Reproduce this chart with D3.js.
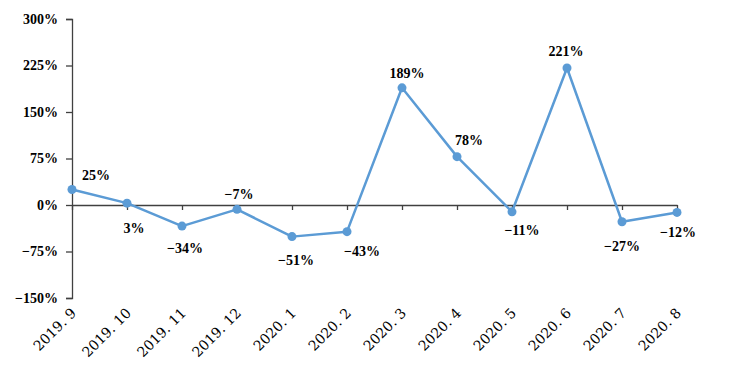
<!DOCTYPE html>
<html>
<head>
<meta charset="utf-8">
<script src="https://cdn.jsdelivr.net/npm/d3@7"></script>
<style>
  body { margin: 0; background: #fff; }
  text { font-family: 'Liberation Serif', 'DejaVu Serif', serif; fill: #000; }
</style>
</head>
<body>
<div id="app"></div>
<script>
'use strict'

// data
const months = ['2019. 9', '2019. 10', '2019. 11', '2019. 12', '2020. 1', '2020. 2',
  '2020. 3', '2020. 4', '2020. 5', '2020. 6', '2020. 7', '2020. 8']
const growth = [25, 3, -34, -7, -51, -43, 189, 78, -11, 221, -27, -12]
const yTicks = [-150, -75, 0, 75, 150, 225, 300]

const width = 750
const height = 377
const margin = { top: 19, right: 73, bottom: 79, left: 72 }

const svg = d3.select('#app').append('svg')
  .attr('width', width)
  .attr('height', height)

const x = d3.scalePoint()
  .domain(months)
  .range([margin.left, width - margin.right])

const y = d3.scaleLinear()
  .domain([-150, 300])
  .range([height - margin.bottom, margin.top])

const fmt = d => (d < 0 ? '\u2212' + Math.abs(d) : d) + '%'

// y axis
const yAxis = svg.append('g')
  .attr('transform', `translate(${margin.left},0)`)
  .call(d3.axisLeft(y).tickValues(yTicks).tickSize(6).tickPadding(8).tickFormat(fmt))
yAxis.select('.domain').attr('stroke', '#404040').attr('stroke-width', 1.3)
yAxis.selectAll('.tick line').attr('stroke', '#404040').attr('stroke-width', 1.3)
yAxis.selectAll('.tick text')
  .style('font-family', "'Liberation Serif', serif")
  .style('font-size', '14px')
  .style('font-weight', 'bold')
  .attr('fill', '#000')

// x axis at zero line
const xAxis = svg.append('g')
  .attr('transform', `translate(0,${y(0)})`)
  .call(d3.axisBottom(x).tickSize(5).tickSizeOuter(0).tickFormat(''))
xAxis.select('.domain').attr('stroke', '#404040').attr('stroke-width', 1.3)
xAxis.selectAll('.tick line').attr('stroke', '#404040').attr('stroke-width', 1.3)

// rotated category labels below the plot
svg.append('g').selectAll('text')
  .data(months)
  .enter().append('text')
  .attr('transform', d => `translate(${x(d) + 5},${y(-150) + 16}) rotate(-45)`)
  .attr('text-anchor', 'end')
  .style('font-family', "'DejaVu Serif', serif")
  .style('font-size', '14px')
  .text(d => d)

// line and markers
const pts = months.map((m, i) => ({ m, v: growth[i] }))

svg.append('path')
  .datum(pts)
  .attr('fill', 'none')
  .attr('stroke', '#5B9BD5')
  .attr('stroke-width', 2.5)
  .attr('stroke-linejoin', 'round')
  .attr('d', d3.line().x(d => x(d.m)).y(d => y(d.v)))

svg.append('g').selectAll('circle')
  .data(pts)
  .enter().append('circle')
  .attr('cx', d => x(d.m))
  .attr('cy', d => y(d.v))
  .attr('r', 4.5)
  .attr('fill', '#5B9BD5')

// data labels, nudged like the original
const nudge = [[24, -10], [7, 30], [3, 27], [2, -10], [4, 28], [15, 24],
  [5, -10], [12, -12], [10, 23], [-1, -12], [0, 29], [1, 25]]

svg.append('g').selectAll('text')
  .data(pts)
  .enter().append('text')
  .attr('x', (d, i) => x(d.m) + nudge[i][0])
  .attr('y', (d, i) => y(d.v) + nudge[i][1])
  .attr('text-anchor', 'middle')
  .style('font-size', '14px')
  .style('font-weight', 'bold')
  .text(d => fmt(d.v))
</script>
</body>
</html>
